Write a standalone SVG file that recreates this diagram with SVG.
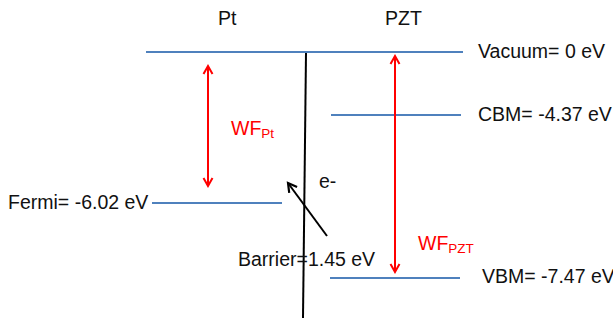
<svg xmlns="http://www.w3.org/2000/svg" width="613" height="322" viewBox="0 0 613 322">
<defs>
<style>
.t{font-family:"Liberation Sans",Arial,sans-serif;font-size:19.5px;fill:#111}
.r{font-family:"Liberation Sans",Arial,sans-serif;font-size:19.5px;fill:#ff0000}
.s{font-size:13.5px}
.lvl{stroke:#4f81bd;stroke-width:2.2;fill:none}
.ra{stroke:#ff0000;stroke-width:2;fill:none}
.ba{stroke:#000;stroke-width:2;fill:none}
</style>
<marker id="rh" viewBox="0 0 12 12" refX="10" refY="6" markerWidth="12" markerHeight="12" markerUnits="userSpaceOnUse" orient="auto-start-reverse">
<polyline points="2,1.5 10,6 2,10.5" fill="none" stroke="#ff0000" stroke-width="2"/>
</marker>
<marker id="bh" viewBox="0 0 12 12" refX="10" refY="6" markerWidth="13" markerHeight="13" markerUnits="userSpaceOnUse" orient="auto">
<polyline points="2,1.5 10,6 2,10.5" fill="none" stroke="#000" stroke-width="2"/>
</marker>
</defs>
<rect width="613" height="322" fill="#fff"/>
<g id="vacuum"><line class="lvl" x1="146" y1="52" x2="463" y2="52"/><text class="t" x="478" y="58">Vacuum= 0 eV</text></g>
<g id="cbm"><line class="lvl" x1="331" y1="115" x2="461" y2="115"/><text class="t" x="478" y="121">CBM= -4.37 eV</text></g>
<g id="fermi"><line class="lvl" x1="152" y1="203" x2="282" y2="203"/><text class="t" x="8" y="209">Fermi= -6.02 eV</text></g>
<g id="vbm"><line class="lvl" x1="330" y1="278" x2="460" y2="278"/><text class="t" x="482" y="283">VBM= -7.47 eV</text></g>
<g id="interface"><line class="ba" x1="306" y1="53" x2="303" y2="318"/></g>
<g id="labels">
<text class="t" x="218" y="25">Pt</text>
<text class="t" x="385" y="25">PZT</text>
<text class="t" x="319" y="188">e-</text>
<text class="t" x="238" y="266">Barrier=1.45 eV</text>
<text class="r" x="231" y="135">WF<tspan class="s" dy="3">Pt</tspan></text>
<text class="r" x="418" y="250">WF<tspan class="s" dy="3">PZT</tspan></text>
</g>
<g id="connectors">
<line class="ra" x1="208" y1="66" x2="208" y2="186" marker-start="url(#rh)" marker-end="url(#rh)"/>
<line class="ra" x1="395" y1="56" x2="395" y2="272" marker-start="url(#rh)" marker-end="url(#rh)"/>
<line class="ba" x1="327" y1="236" x2="288" y2="183" marker-end="url(#bh)"/>
</g>
</svg>
